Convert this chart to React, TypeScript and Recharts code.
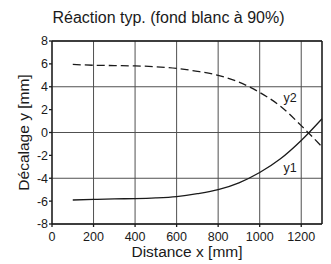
import { LineChart, Line, XAxis, YAxis, CartesianGrid, ReferenceLine, ReferenceDot } from "recharts";

const distances = [100, 200, 300, 400, 500, 600, 700, 800, 900, 1000, 1100, 1200, 1300];
const y1Values = [-5.9, -5.85, -5.8, -5.78, -5.72, -5.6, -5.35, -5.0, -4.4, -3.5, -2.3, -0.7, 1.2];
const y2Values = [5.95, 5.88, 5.85, 5.82, 5.75, 5.6, 5.35, 5.0, 4.4, 3.5, 2.3, 0.6, -1.25];
const xTicks = [0, 200, 400, 600, 800, 1000, 1200];
const yTicks = [-8, -6, -4, -2, 0, 2, 4, 6, 8];
const seriesLabels = [
  { name: "y2", x: 1146, y: 3.05 },
  { name: "y1", x: 1146, y: -3.1 },
];

const data = distances.map((x, i) => ({ x, y1: y1Values[i], y2: y2Values[i] }));

const FONT = "'Liberation Sans', Arial, sans-serif";
const INK = "#1a1a1a";
const GRID = "#505050";

export default function App() {
  return (
    <div style={{ width: 331, height: 264, position: "relative", fontFamily: FONT, background: "#fff" }}>
      <style>{`body{margin:0}`}</style>
      <div
        style={{
          position: "absolute",
          top: 9,
          left: 0,
          width: 337,
          textAlign: "center",
          fontSize: 16,
          color: INK,
        }}
      >
        Réaction typ. (fond blanc à 90%)
      </div>
      <LineChart width={331} height={264} data={data} margin={{ top: 41, right: 9, bottom: 0, left: 0 }}>
        <CartesianGrid stroke={GRID} strokeWidth={1} />
        <XAxis
          dataKey="x"
          type="number"
          domain={[0, 1300]}
          ticks={xTicks}
          height={40}
          stroke={INK}
          strokeWidth={1.3}
          tickSize={3}
          tickMargin={5}
          tick={{ fontSize: 12.5, fill: INK, fontFamily: FONT }}
          label={{
            value: "Distance x [mm]",
            position: "insideBottom",
            offset: 8,
            dy: 1,
            fontSize: 15.5,
            fill: INK,
            fontFamily: FONT,
          }}
        />
        <YAxis
          type="number"
          domain={[-8, 8]}
          ticks={yTicks}
          width={52}
          stroke={INK}
          strokeWidth={1.3}
          tickSize={3}
          tickMargin={1}
          tick={{ fontSize: 12.5, fill: INK, fontFamily: FONT }}
          label={{
            value: "Décalage y [mm]",
            angle: -90,
            position: "insideLeft",
            offset: 23,
            style: { textAnchor: "middle" },
            fontSize: 15.5,
            fill: INK,
            fontFamily: FONT,
          }}
        />
        <ReferenceLine x={1300} stroke={INK} strokeWidth={1.3} />
        <ReferenceLine y={8} stroke={INK} strokeWidth={1.3} />
        <Line
          dataKey="y2"
          type="monotone"
          stroke={INK}
          strokeWidth={1.3}
          strokeDasharray="8 4"
          dot={false}
          isAnimationActive={false}
        />
        <Line dataKey="y1" type="monotone" stroke={INK} strokeWidth={1.3} dot={false} isAnimationActive={false} />
        {seriesLabels.map((l) => (
          <ReferenceDot
            key={l.name}
            x={l.x}
            y={l.y}
            r={0}
            stroke="none"
            label={{ value: l.name, position: "center", fontSize: 12.5, fill: INK, fontFamily: FONT }}
          />
        ))}
      </LineChart>
    </div>
  );
}
